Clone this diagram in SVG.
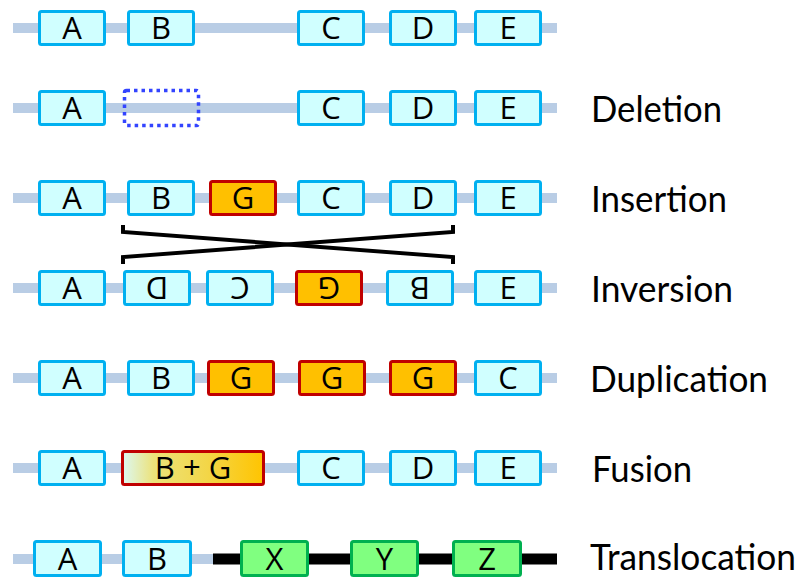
<svg xmlns="http://www.w3.org/2000/svg" width="800" height="581" viewBox="0 0 800 581">
<style>
.ln{stroke:#b9cde5;stroke-width:10;fill:none}
.bk{stroke:#000;stroke-width:11;fill:none}
.b{fill:#d0ffff;stroke:#00b0f0;stroke-width:3}
.g{fill:#ffc000;stroke:#c00000;stroke-width:3}
.x{fill:#80ff80;stroke:#00b050;stroke-width:3}
.f{fill:url(#fus);stroke:#c00000;stroke-width:3}
.del{fill:none;stroke:#3344ff;stroke-width:3.5;stroke-dasharray:3.5 4}
.t{font-family:"Open Sans","Noto Sans",sans-serif;font-size:31px;text-anchor:middle;fill:#000}
.lb{font-family:Lato,"Open Sans",sans-serif;font-size:36px;fill:#000}
.cr{stroke:#000;stroke-width:4;fill:none}
</style>
<defs>
<linearGradient id="fus" x1="0" y1="0" x2="1" y2="0">
<stop offset="0" stop-color="#dcf8f4"/>
<stop offset="0.22" stop-color="#ece27a"/>
<stop offset="0.6" stop-color="#f3d648"/>
<stop offset="1" stop-color="#ffc400"/>
</linearGradient>
</defs>
<g id="lines">
<line class="ln" x1="13" y1="28" x2="557" y2="28"/>
<line class="ln" x1="13" y1="108" x2="557" y2="108"/>
<line class="ln" x1="13" y1="198" x2="557" y2="198"/>
<line class="ln" x1="13" y1="288" x2="557" y2="288"/>
<line class="ln" x1="13" y1="378" x2="557" y2="378"/>
<line class="ln" x1="13" y1="468" x2="557" y2="468"/>
<line class="ln" x1="13" y1="559" x2="214" y2="559"/>
<line class="bk" x1="213" y1="559" x2="557" y2="559"/>
</g>
<g id="connectors">
<path class="cr" d="M123,225 V232 L453,257 V264"/>
<path class="cr" d="M453,225 V232 L123,257 V264"/>
</g>
<g id="row1">
<g id="r1A"><rect class="b" x="39.5" y="11.5" width="65" height="33" rx="2"/><text class="t" x="72" y="39">A</text></g>
<g id="r1B"><rect class="b" x="128.5" y="11.5" width="65" height="33" rx="2"/><text class="t" x="161" y="39">B</text></g>
<g id="r1C"><rect class="b" x="298.5" y="11.5" width="65" height="33" rx="2"/><text class="t" x="331" y="39">C</text></g>
<g id="r1D"><rect class="b" x="390.5" y="11.5" width="65" height="33" rx="2"/><text class="t" x="423" y="39">D</text></g>
<g id="r1E"><rect class="b" x="475.5" y="11.5" width="65" height="33" rx="2"/><text class="t" x="508" y="39">E</text></g>
</g>
<g id="row2">
<g id="r2A"><rect class="b" x="39.5" y="91.5" width="65" height="33" rx="2"/><text class="t" x="72" y="119">A</text></g>
<g id="r2gap"><rect class="del" x="124.5" y="90.5" width="74" height="35" rx="2"/></g>
<g id="r2C"><rect class="b" x="298.5" y="91.5" width="65" height="33" rx="2"/><text class="t" x="331" y="119">C</text></g>
<g id="r2D"><rect class="b" x="390.5" y="91.5" width="65" height="33" rx="2"/><text class="t" x="423" y="119">D</text></g>
<g id="r2E"><rect class="b" x="475.5" y="91.5" width="65" height="33" rx="2"/><text class="t" x="508" y="119">E</text></g>
<text class="lb" x="591" y="122" textLength="131" lengthAdjust="spacingAndGlyphs">Deletion</text>
</g>
<g id="row3">
<g id="r3A"><rect class="b" x="39.5" y="181.5" width="65" height="33" rx="2"/><text class="t" x="72" y="209">A</text></g>
<g id="r3B"><rect class="b" x="128.5" y="181.5" width="65" height="33" rx="2"/><text class="t" x="161" y="209">B</text></g>
<g id="r3G"><rect class="g" x="210.5" y="181.5" width="65" height="33" rx="2"/><text class="t" x="243" y="209">G</text></g>
<g id="r3C"><rect class="b" x="298.5" y="181.5" width="65" height="33" rx="2"/><text class="t" x="331" y="209">C</text></g>
<g id="r3D"><rect class="b" x="390.5" y="181.5" width="65" height="33" rx="2"/><text class="t" x="423" y="209">D</text></g>
<g id="r3E"><rect class="b" x="475.5" y="181.5" width="65" height="33" rx="2"/><text class="t" x="508" y="209">E</text></g>
<text class="lb" x="591" y="212" textLength="136" lengthAdjust="spacingAndGlyphs">Insertion</text>
</g>
<g id="row4">
<g id="r4A"><rect class="b" x="39.5" y="271.5" width="65" height="33" rx="2"/><text class="t" x="72" y="299">A</text></g>
<g id="r4D"><rect class="b" x="124.5" y="271.5" width="65" height="33" rx="2"/><text class="t" x="157" y="299" transform="rotate(180 157 288)">D</text></g>
<g id="r4C"><rect class="b" x="207.5" y="271.5" width="65" height="33" rx="2"/><text class="t" x="240" y="299" transform="rotate(180 240 288)">C</text></g>
<g id="r4G"><rect class="g" x="296.5" y="271.5" width="65" height="33" rx="2"/><text class="t" x="329" y="299" transform="rotate(180 329 288)">G</text></g>
<g id="r4B"><rect class="b" x="387.5" y="271.5" width="65" height="33" rx="2"/><text class="t" x="420" y="299" transform="rotate(180 420 288)">B</text></g>
<g id="r4E"><rect class="b" x="475.5" y="271.5" width="65" height="33" rx="2"/><text class="t" x="508" y="299">E</text></g>
<text class="lb" x="591" y="302" textLength="142" lengthAdjust="spacingAndGlyphs">Inversion</text>
</g>
<g id="row5">
<g id="r5A"><rect class="b" x="39.5" y="361.5" width="65" height="33" rx="2"/><text class="t" x="72" y="389">A</text></g>
<g id="r5B"><rect class="b" x="128.5" y="361.5" width="65" height="33" rx="2"/><text class="t" x="161" y="389">B</text></g>
<g id="r5G1"><rect class="g" x="208.5" y="361.5" width="65" height="33" rx="2"/><text class="t" x="241" y="389">G</text></g>
<g id="r5G2"><rect class="g" x="299.5" y="361.5" width="65" height="33" rx="2"/><text class="t" x="332" y="389">G</text></g>
<g id="r5G3"><rect class="g" x="390.5" y="361.5" width="65" height="33" rx="2"/><text class="t" x="423" y="389">G</text></g>
<g id="r5C"><rect class="b" x="475.5" y="361.5" width="65" height="33" rx="2"/><text class="t" x="508" y="389">C</text></g>
<text class="lb" x="590" y="392" textLength="178" lengthAdjust="spacingAndGlyphs">Duplication</text>
</g>
<g id="row6">
<g id="r6A"><rect class="b" x="39.5" y="451.5" width="65" height="33" rx="2"/><text class="t" x="72" y="479">A</text></g>
<g id="r6BG"><rect class="f" x="122.5" y="451.5" width="141" height="33" rx="2"/><text class="t" x="193" y="479">B + G</text></g>
<g id="r6C"><rect class="b" x="298.5" y="451.5" width="65" height="33" rx="2"/><text class="t" x="331" y="479">C</text></g>
<g id="r6D"><rect class="b" x="390.5" y="451.5" width="65" height="33" rx="2"/><text class="t" x="423" y="479">D</text></g>
<g id="r6E"><rect class="b" x="475.5" y="451.5" width="65" height="33" rx="2"/><text class="t" x="508" y="479">E</text></g>
<text class="lb" x="592" y="482" textLength="100" lengthAdjust="spacingAndGlyphs">Fusion</text>
</g>
<g id="row7">
<g id="r7A"><rect class="b" x="34.5" y="541.5" width="66" height="34" rx="2"/><text class="t" x="67.5" y="570">A</text></g>
<g id="r7B"><rect class="b" x="123.5" y="541.5" width="67" height="34" rx="2"/><text class="t" x="157" y="570">B</text></g>
<g id="r7X"><rect class="x" x="241.5" y="541.5" width="66" height="34" rx="2"/><text class="t" x="274.5" y="570">X</text></g>
<g id="r7Y"><rect class="x" x="351.5" y="541.5" width="66" height="34" rx="2"/><text class="t" x="384.5" y="570">Y</text></g>
<g id="r7Z"><rect class="x" x="453.5" y="541.5" width="67" height="34" rx="2"/><text class="t" x="487" y="570">Z</text></g>
<text class="lb" x="590" y="570" font-size="34" textLength="206" lengthAdjust="spacingAndGlyphs">Translocation</text>
</g>
</svg>
